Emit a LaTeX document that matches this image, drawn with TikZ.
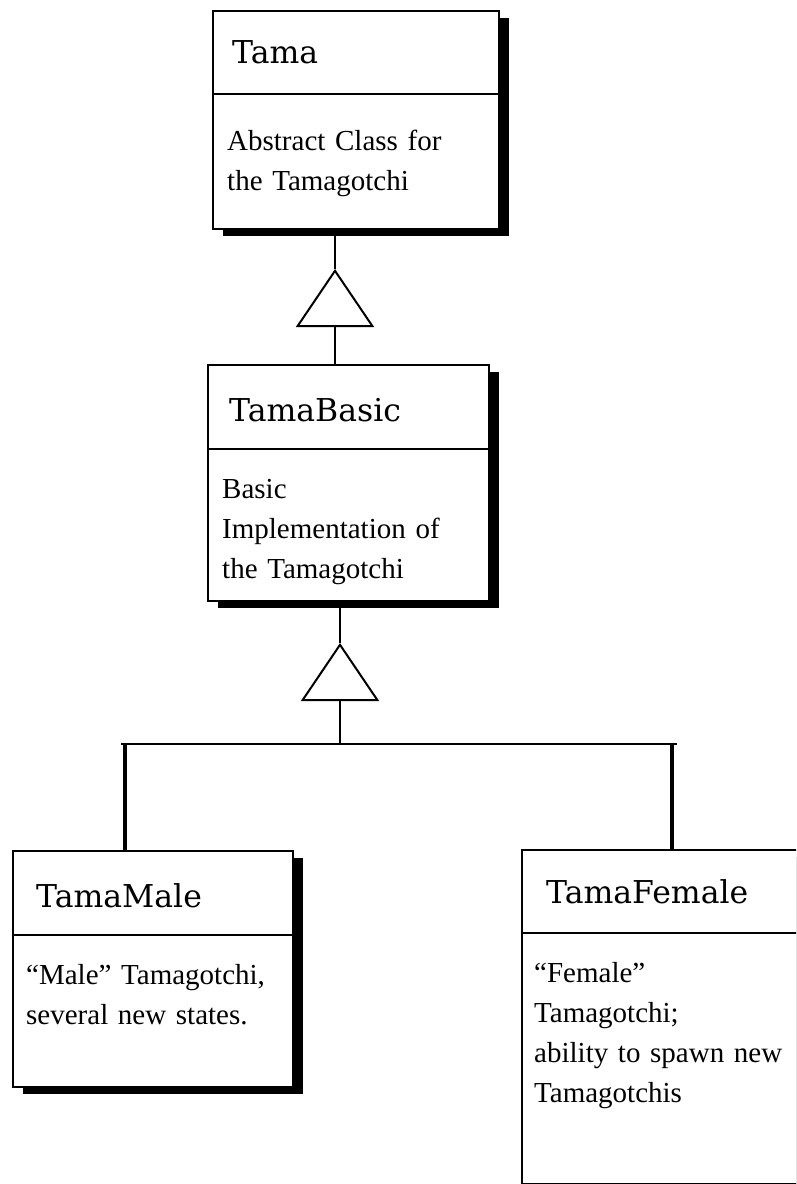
\documentclass[tikz,border=0pt]{standalone}
\usepackage{fontspec}
\newfontfamily\notefont{Liberation Serif}
\newfontfamily\namefont{DejaVu Serif}
\usetikzlibrary{positioning, shadows, arrows.meta}

\tikzset{
  classbox/.style={draw, line width=1.6pt, fill=white, anchor=north west, inner sep=0pt,
    drop shadow={shadow xshift=10pt, shadow yshift=-7pt, fill=black, opacity=1}},
  classname/.style={anchor=base west, inner sep=0pt, font=\namefont\fontsize{31.5}{40}\selectfont},
  classnote/.style={anchor=base west, inner sep=0pt, align=left, text width=270pt,
    font=\notefont\fontsize{29}{40}\selectfont},
  link/.style={line width=2pt},
  drop/.style={line width=3.5pt},
  gen/.style={link, -{Triangle[open, length=58pt, width=78pt, line width=2pt]}},
}

\begin{document}
\begin{tikzpicture}[x=1pt, y=-1pt]
\useasboundingbox (0,0) rectangle (796,1184);
\clip (0,0) rectangle (796,1184);

% Tama
\node[classbox, minimum width=286pt, minimum height=218pt] (tama) at (212,10) {};
\draw[line width=1.6pt] (tama.west |- 0,94) -- (tama.east |- 0,94);
\node[classname] (tamaName) at (232,63) {Tama};
\node[classnote] (tamaNote) at (227,150) {Abstract Class for\\the Tamagotchi};

% TamaBasic
\node[classbox, minimum width=281pt, minimum height=236pt] (basic) at (207,364) {};
\draw[line width=1.6pt] (basic.west |- 0,449) -- (basic.east |- 0,449);
\node[classname] (basicName) at (229,421) {TamaBasic};
\node[classnote] (basicNote) at (222,498) {Basic\\Implementation of\\the Tamagotchi};

% TamaMale
\node[classbox, minimum width=280pt, minimum height=236pt] (male) at (12,850) {};
\draw[line width=1.6pt] (male.west |- 0,935) -- (male.east |- 0,935);
\node[classname] (maleName) at (36,907) {TamaMale};
\node[classnote] (maleNote) at (26,984) {“Male” Tamagotchi,\\several new states.};

% TamaFemale
\node[classbox, minimum width=290pt, minimum height=334pt] (female) at (521,849) {};
\draw[line width=1.6pt] (female.west |- 0,933) -- (female.east |- 0,933);
\node[classname] (femaleName) at (546,903) {TamaFemale};
\node[classnote] (femaleNote) at (534,982) {“Female”\\Tamagotchi;\\ability to spawn new\\Tamagotchis};

% inheritance
\coordinate (tipA) at (335,269);
\draw[link] (tama.south -| tipA) -- (tipA);
\draw[gen] (basic.north -| tipA) -- (tipA);

\coordinate (tipB) at (340,643);
\coordinate (busL) at (121,744);
\coordinate (busR) at (677,744);
\draw[link] (basic.south -| tipB) -- (tipB);
\draw[gen] (busL -| tipB) -- (tipB);
\draw[link] (busL) -- (busR);

\coordinate (dropM) at (125,744);
\coordinate (dropF) at (672,744);
\draw[drop] (dropM) -- (dropM |- male.north);
\draw[drop] (dropF) -- (dropF |- female.north);
\end{tikzpicture}
\end{document}
